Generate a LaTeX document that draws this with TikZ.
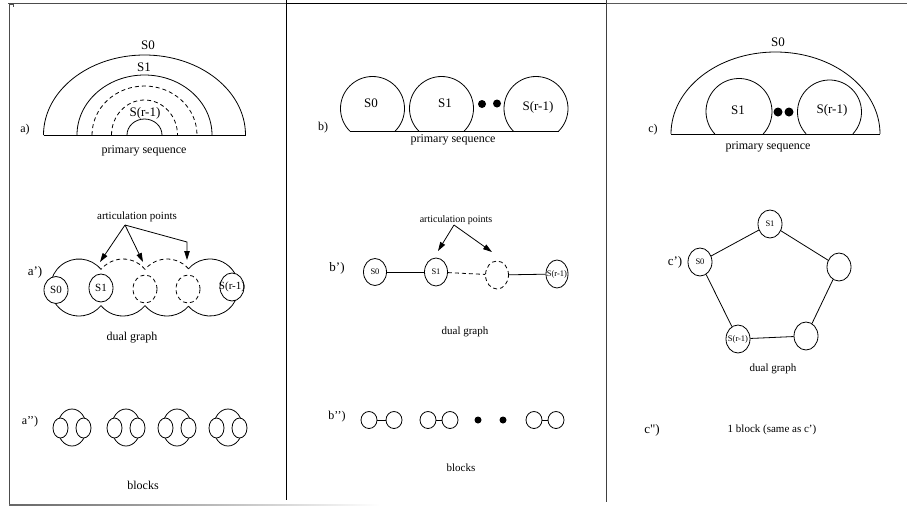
\documentclass[tikz,border=0pt]{standalone}
\usepackage{fontspec}
\setmainfont{Liberation Serif}
\newfontfamily\rawser[Ligatures=TeXOff]{Liberation Serif}
\usetikzlibrary{arrows.meta,shapes.geometric}
\begin{document}
\begin{tikzpicture}[x=1pt,y=1pt,
  every node/.style={inner sep=0pt, font=\fontsize{12}{14}\selectfont},
  ln/.style={line width=0.8pt},
  dsh/.style={line width=0.8pt, dash pattern=on 4pt off 3pt},
  arr/.style={line width=0.8pt, -{Triangle[length=9pt,width=5.5pt]}},
  vtx/.style={ellipse, draw, line width=0.8pt, fill=white, minimum width=24pt, minimum height=28pt},
  bvtx/.style={ellipse, draw, line width=0.8pt, fill=white, minimum width=15pt, minimum height=20pt},
  pvtx/.style={ellipse, draw, line width=0.8pt, fill=white, minimum width=16pt, minimum height=17pt},
  lab/.style={font=\fontsize{13}{15}\selectfont},
  sml/.style={font=\fontsize{8.5}{10}\selectfont},
  mid/.style={font=\fontsize{11}{13}\selectfont},
  dot/.style={circle, fill=black, inner sep=0pt, minimum size=8pt}
]
\useasboundingbox (0,0) rectangle (907,-507);

% ---------- frame ----------
\draw[gray!60!black, line width=1pt] (8,-3.5) -- (286,-3.5);
\draw[black, line width=1pt] (286,-3.5) -- (606,-3.5);
\draw[gray!70!black, line width=1pt] (606,-3.5) -- (907,-3.5);
\draw[gray!60!black, line width=0.6pt] (9,-4) -- (13,-4) -- (13,-7);
\draw[gray!60!black, line width=1pt] (9,-3.5) -- (9,-505);
\shade[left color=gray!80!black, right color=white] (9,-504.4) rectangle (380,-505.8);
\draw[black, line width=1pt] (286,0) -- (286,-500);
\draw[gray!50!black, line width=1pt] (606,0) -- (606,-502);

% ---------- panel a ----------
\draw[ln] (43.5,-135) -- (245.5,-135);
\draw[ln]  (43.5,-135) arc[start angle=180,end angle=0,x radius=101,y radius=80];
\draw[ln]  (77,-135)   arc[start angle=180,end angle=0,x radius=67.5,y radius=60];
\draw[dsh] (92,-135)   arc[start angle=180,end angle=0,x radius=52.5,y radius=49];
\draw[dsh] (111.5,-135) arc[start angle=180,end angle=0,x radius=33,y radius=35];
\draw[ln]  (127,-135)  arc[start angle=180,end angle=0,x radius=17.5,y radius=16];
\node[lab] (aS0) at (148,-45) {S0};
\node[lab] (aS1) at (144,-67) {S1};
\node[lab] (aSr) at (145,-113) {S(r-1)};
\node (alab) at (25,-130) {a)};
\node (aps) at (144,-151) {primary sequence};

% ---------- panel a' ----------
\coordinate (c1) at (79,-287.5);
\coordinate (c2) at (123,-287.5);
\coordinate (c3) at (167,-287.5);
\coordinate (c4) at (210,-287.5);
\draw[ln]  ([shift={(39.4:28.5)}]c1) arc[start angle=39.4,end angle=320.6,radius=28.5];
\draw[dsh] ([shift={(39.4:28.5)}]c2) arc[start angle=39.4,end angle=140.6,radius=28.5];
\draw[ln]  ([shift={(219.4:28.5)}]c2) arc[start angle=219.4,end angle=320.6,radius=28.5];
\draw[dsh] ([shift={(41:28.5)}]c3) arc[start angle=41,end angle=140.6,radius=28.5];
\draw[ln]  ([shift={(219.4:28.5)}]c3) arc[start angle=219.4,end angle=319,radius=28.5];
\draw[ln]  ([shift={(-139:28.5)}]c4) arc[start angle=-139,end angle=139,radius=28.5];
\node[vtx, minimum height=27pt, mid] (pS0) at (56,-290) {S0};
\node[vtx, mid] (pS1) at (101,-288) {S1};
\node[vtx, dash pattern=on 4pt off 3pt] (pD1) at (145,-289) {};
\node[vtx, dash pattern=on 4pt off 3pt] (pD2) at (188,-289) {};
\node[vtx, label={[mid]center:S(r-1)}] (pSr) at (232,-287) {};
\node[lab] (aplab) at (35,-272) {a’)};
\node[mid] (aAP) at (137,-217) {articulation points};
\coordinate (apo) at (125,-225);
\coordinate (apt1) at (100,-262);
\coordinate (apt2) at (143,-262);
\coordinate (apk) at (187,-242);
\coordinate (apt3) at (187,-260);
\draw[arr] (apo) -- (apt1);
\draw[arr] (apo) -- (apt2);
\draw[arr] (apo) -- (apk) -- (apt3);
\node (adg) at (132,-338) {dual graph};

% ---------- panel a'' ----------
\node (appl) at (30,-422) {a’’)};
\foreach \g [count=\i] in {72,126,177,228}{
  \draw[ln] (\g,-427.5) ellipse[x radius=14.5, y radius=18.5];
  \node[bvtx] (bl\i) at (\g-11.5,-428) {};
  \node[bvtx] (br\i) at (\g+11.5,-428) {};
}
\node (ablk) at (143,-485) {blocks};

% ---------- panel b ----------
\draw[ln] (350,-131) -- (559,-131);
\draw[ln] ([shift={(-45:32)}]372.5,-108.5) arc[start angle=-45,end angle=225,radius=32];
\draw[ln] ([shift={(-45:32)}]441.5,-108.5) arc[start angle=-45,end angle=225,radius=32];
\draw[ln] ([shift={(-45:32)}]536,-108.5) arc[start angle=-45,end angle=225,radius=32];
\node[lab] (bS0) at (371,-103) {S0};
\node[lab] (bS1) at (445,-103) {S1};
\node[lab] (bSr) at (538,-107) {S(r-1)};
\node[dot] (bd1) at (482,-104) {};
\node[dot] (bd2) at (497,-103.5) {};
\node (blab) at (323,-128) {b)};
\node (bps) at (453,-140) {primary sequence};

% ---------- panel b' ----------
\node[vtx, minimum width=23pt, minimum height=27pt, sml] (qS0) at (375,-272) {S0};
\node[vtx, minimum width=23pt, minimum height=28pt, sml] (qS1) at (436,-272) {S1};
\node[vtx, minimum width=23pt, minimum height=28pt, dash pattern=on 4pt off 3pt] (qD) at (497,-275) {};
\node[vtx, minimum width=22pt, minimum height=28pt, label={[sml]center:S(r-1)}] (qSr) at (557,-274) {};
\draw[ln] (qS0) -- (qS1);
\draw[dsh] (qS1) -- (qD);
\draw[ln] (qD) -- (qSr);
\node[lab] (bplab) at (337,-268) {b’)};
\node[font=\fontsize{10}{12}\selectfont] (bAP) at (456,-220) {articulation points};
\coordinate (bpo) at (454,-225);
\coordinate (bpt1) at (438,-251);
\coordinate (bpt2) at (492,-252);
\draw[arr] (bpo) -- (bpt1);
\draw[arr] (bpo) -- (bpt2);
\node[mid] (bdg) at (465,-332) {dual graph};

% ---------- panel b'' ----------
\node (bppl) at (337,-417) {b’’)};
\node[pvtx] (u1) at (369,-420) {};
\node[pvtx] (v1) at (394,-420) {};
\node[pvtx] (u2) at (428,-420) {};
\node[pvtx] (v2) at (450,-420) {};
\node[pvtx] (u3) at (534,-420) {};
\node[pvtx] (v3) at (556,-420) {};
\draw[ln] (u1) -- (v1);
\draw[ln] (u2) -- (v2);
\draw[ln] (u3) -- (v3);
\node[dot, minimum size=7pt] (bb1) at (478,-420) {};
\node[dot, minimum size=7pt] (bb2) at (503,-420) {};
\node[mid] (bblk) at (461,-468) {blocks};

% ---------- panel c ----------
\draw[ln] (671,-134) -- (880,-134);
\draw[ln] (671,-134) arc[start angle=180,end angle=0,x radius=104.5,y radius=82];
\draw[ln] ([shift={(-43:33)}]739,-111.5) arc[start angle=-43,end angle=223,radius=33];
\draw[ln] ([shift={(-43:32)}]829.5,-112) arc[start angle=-43,end angle=223,radius=32];
\node[lab] (cS0) at (778,-42) {S0};
\node[lab] (cS1) at (738,-110) {S1};
\node[lab] (cSr) at (832,-110) {S(r-1)};
\node[dot, minimum size=9pt] (cd1) at (778,-112) {};
\node[dot, minimum size=9pt] (cd2) at (789,-112) {};
\node (clab) at (653,-130) {c)};
\node (cps) at (768,-147) {primary sequence};

% ---------- panel c' ----------
\node[vtx, sml] (rS1) at (770,-224) {S1};
\node[vtx, sml] (rS0) at (700,-262) {S0};
\node[vtx] (rR) at (839,-267) {};
\node[vtx] (rB) at (806,-336) {};
\node[vtx, label={[sml]center:S(r-1)}] (rSr) at (738,-339) {};
\draw[ln] (rS0) -- (rS1);
\draw[ln] (rS1) -- (rR);
\draw[ln] (rR) -- (rB);
\draw[ln] (rB) -- (rSr);
\draw[ln] (rSr) -- (rS0);
\node[lab] (cplab) at (675,-262) {c’)};
\node[mid] (cdg) at (773,-369) {dual graph};

% ---------- panel c'' ----------
\node[font=\rawser\fontsize{13}{15}\selectfont] (cppl) at (652,-430) {c")};
\node[mid] (cblk) at (772,-430) {1 block (same as c’)};
\end{tikzpicture}
\end{document}
